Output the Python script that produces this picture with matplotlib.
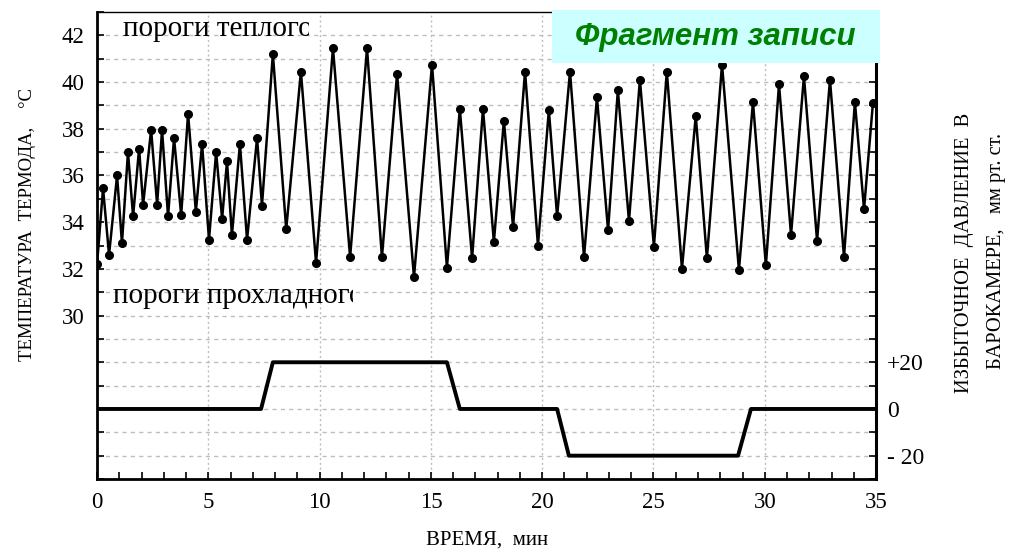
import numpy as np
import matplotlib
matplotlib.use('Agg')
import matplotlib.pyplot as plt
from matplotlib.patches import Rectangle
from matplotlib.transforms import Bbox, TransformedBbox

plt.rcParams['font.family'] = ['Liberation Serif', 'DejaVu Serif']

# температура термода, мин / °C
t_min = [0.0, 0.27, 0.54, 0.9, 1.12, 1.39, 1.62, 1.89, 2.07, 2.43, 2.7, 2.92, 3.19, 3.46,
         3.78, 4.09, 4.44, 4.72, 5.03, 5.35, 5.62, 5.84, 6.06, 6.42, 6.74, 7.19, 7.41, 7.9,
         8.5, 9.16, 9.84, 10.6, 11.37, 12.13, 12.8, 13.48, 14.24, 15.05, 15.72, 16.3, 16.85,
         17.34, 17.83, 18.28, 18.69, 19.23, 19.81, 20.3, 20.67, 21.25, 21.88, 22.46, 22.96,
         23.4, 23.9, 24.39, 25.02, 25.6, 26.28, 26.9, 27.4, 28.08, 28.84, 29.47, 30.05, 30.64,
         31.18, 31.76, 32.35, 32.93, 33.56, 34.05, 34.46, 34.86]
temp = [32.2, 35.45, 32.6, 36.0, 33.1, 37.0, 34.25, 37.15, 34.75, 37.95, 34.75, 37.95, 34.25,
        37.6, 34.3, 38.65, 34.45, 37.35, 33.25, 37.0, 34.15, 36.6, 33.45, 37.35, 33.25, 37.6,
        34.7, 41.2, 33.7, 40.45, 32.25, 41.45, 32.5, 41.45, 32.5, 40.35, 31.65, 40.75, 32.05,
        38.85, 32.45, 38.85, 33.15, 38.35, 33.8, 40.45, 33.0, 38.8, 34.25, 40.45, 32.5, 39.35,
        33.65, 39.65, 34.05, 40.1, 32.95, 40.45, 32.0, 38.55, 32.45, 40.75, 31.95, 39.15,
        32.15, 39.9, 33.45, 40.25, 33.2, 40.1, 32.5, 39.15, 34.55, 39.1]

# избыточное давление в барокамере, мм рт. ст.
p_time = [0.0, 7.37, 7.9, 15.72, 16.3, 20.67, 21.2, 28.8, 29.38, 35.0]
p_value = [0, 0, 20, 20, 0, 0, -20, -20, 0, 0]

temp_ticks = [30, 32, 34, 36, 38, 40, 42]
time_ticks = [0, 5, 10, 15, 20, 25, 30, 35]
p_ticks = [-20, 0, 20]
p_ticklabels = ['- 20', '0', '+20']

fig = plt.figure(figsize=(10.15, 5.52), dpi=100)
ax = fig.add_axes([0.0956, 0.1322, 0.7675, 0.8461])
ax.set_xlim(0, 35)
ax.set_ylim(23, 43)

# сетка
for y in range(24, 43):
    ax.axhline(y, color='#bdbdbd', lw=1.0, ls=(0, (3, 3)), zorder=0)
for x in range(5, 35, 5):
    ax.axvline(x, color='#bdbdbd', lw=1.0, ls=(0, (1.5, 2)), zorder=0)

ax.plot(t_min, temp, color='black', lw=1.8, marker='o', ms=5.5, zorder=3)

ax.set_yticks(range(23, 44), minor=True)
ax.set_yticks(temp_ticks)
ax.set_xticks(range(0, 36), minor=True)
ax.set_xticks(time_ticks)
ax.tick_params(which='both', direction='in', length=5, width=1.2, labelsize=16.5, pad=9)
ax.tick_params(axis='y', which='both', right=False)
ax.set_xticklabels([str(v) for v in time_ticks])
for s in ['left', 'bottom']:
    ax.spines[s].set_linewidth(2.0)
ax.spines['top'].set_linewidth(1.0)

# давление — правая ось
ax2 = ax.twinx()
ax2.set_ylim(-30, 170)
ax2.plot(p_time, p_value, color='black', lw=2.8, zorder=3)
ax2.set_yticks(range(-30, 171, 10), minor=True)
ax2.set_yticks(p_ticks)
ax2.set_yticklabels(p_ticklabels)
ax2.tick_params(which='both', direction='in', length=5, width=1.2, labelsize=17, pad=8)
ax2.spines['right'].set_linewidth(2.2)
for s in ['left', 'bottom', 'top']:
    ax2.spines[s].set_visible(False)

# подписи порогов (обрезаны по рамке)
t1 = ax.text(1.18, 42.25, 'пороги теплого', fontsize=21, va='center', zorder=4)
t1.set_clip_box(TransformedBbox(Bbox([[0, 41.3], [9.52, 43]]), ax.transData))
t1.set_clip_on(True)
t2 = ax.text(0.72, 30.85, 'пороги прохладного', fontsize=21, va='center', zorder=4)
t2.set_clip_box(TransformedBbox(Bbox([[0, 30], [11.5, 31.7]]), ax.transData))
t2.set_clip_on(True)

# заголовок фрагмента
fig.patches.append(Rectangle((552 / 1015, 1 - 63 / 552), 328 / 1015, 53 / 552,
                             transform=fig.transFigure, facecolor='#ccffff',
                             edgecolor='none', zorder=5))
fig.text(715 / 1015, 1 - 37 / 552, 'Фрагмент записи', family='Liberation Sans',
         fontsize=22.5, fontweight='bold', fontstyle='italic', color='#008000',
         ha='center', va='center', zorder=6)

fig.text(487 / 1015, 1 - 540 / 552, 'ВРЕМЯ,  мин', fontsize=15, ha='center', va='center')
fig.text(28 / 1015, 1 - 225 / 552, 'ТЕМПЕРАТУРА  ТЕРМОДА,    °С', fontsize=13.5,
         rotation=90, ha='center', va='center')
fig.text(964 / 1015, 1 - 253 / 552, 'ИЗБЫТОЧНОЕ  ДАВЛЕНИЕ  В', fontsize=14.8,
         rotation=90, ha='center', va='center')
fig.text(997 / 1015, 1 - 251 / 552, 'БАРОКАМЕРЕ,   мм рт. ст.', fontsize=14.8,
         rotation=90, ha='center', va='center')

fig.savefig('out.png', dpi=100)
